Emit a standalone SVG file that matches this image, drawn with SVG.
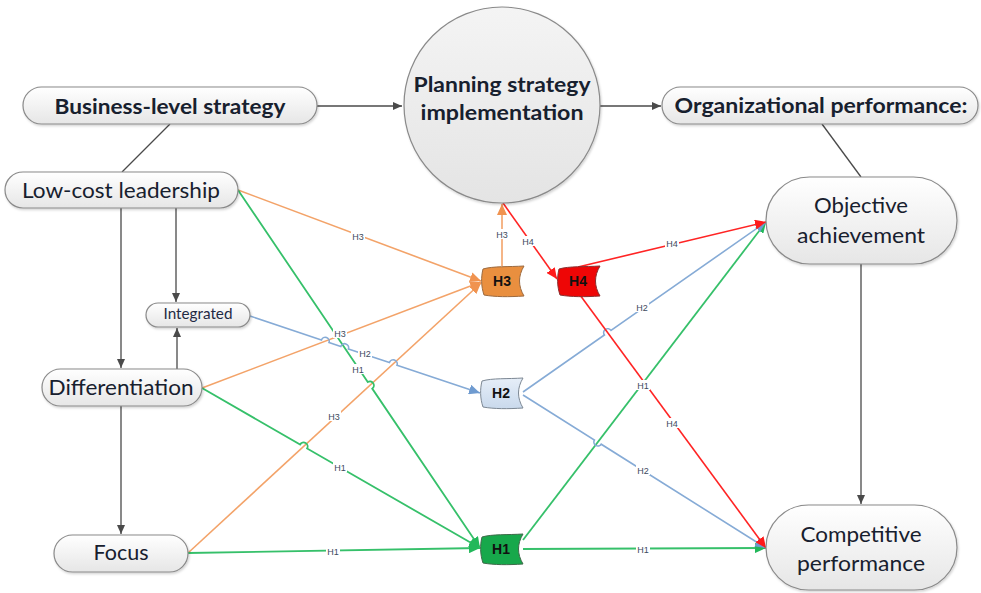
<svg xmlns="http://www.w3.org/2000/svg" xmlns:xlink="http://www.w3.org/1999/xlink" width="981" height="593" viewBox="0 0 981 593">
  <style>
    .node { fill: url(#nodeFill); stroke: #8a8a8a; stroke-width: 1.2; filter: url(#shadow); }
    .title { font-family: Lato, "Liberation Sans", sans-serif; font-weight: bold; font-size: 21px; fill: #17202e; text-anchor: middle; }
    .label { font-family: Lato, "Liberation Sans", sans-serif; font-size: 21px; fill: #17202e; text-anchor: middle; }
    .small { font-family: Lato, "Liberation Sans", sans-serif; font-size: 15px; fill: #1f2a44; text-anchor: middle; }
    .hyp { font-family: "Liberation Sans", Arial, sans-serif; font-weight: bold; font-size: 14px; fill: #111; text-anchor: middle; }
    .gray { stroke: #4a4a4a; stroke-width: 1.3; fill: none; }
    .or { stroke: #f3a369; stroke-width: 1.6; fill: none; }
    .gr { stroke: #36c06a; stroke-width: 1.8; fill: none; }
    .bl { stroke: #86abd6; stroke-width: 1.6; fill: none; }
    .rd { stroke: #ff2424; stroke-width: 1.6; fill: none; }
    .tag rect { fill: #ffffff; }
    .tag text { font-family: "Liberation Sans", Arial, sans-serif; font-size: 9px; fill: #3e4a5e; text-anchor: middle; }
  </style>
  <defs>
    <linearGradient id="nodeFill" x1="0" y1="0" x2="0" y2="1">
      <stop offset="0" stop-color="#ffffff"/>
      <stop offset="1" stop-color="#e6e6e6"/>
    </linearGradient>
    <linearGradient id="circleFill" x1="0" y1="0" x2="0" y2="1">
      <stop offset="0" stop-color="#f4f4f4"/>
      <stop offset="1" stop-color="#e4e4e4"/>
    </linearGradient>
    <linearGradient id="blueFill" x1="0" y1="0" x2="0" y2="1">
      <stop offset="0" stop-color="#e6eef8"/>
      <stop offset="1" stop-color="#c9d9ec"/>
    </linearGradient>
    <filter id="shadow" x="-10%" y="-10%" width="125%" height="130%">
      <feDropShadow dx="1" dy="1.5" stdDeviation="1.2" flood-color="#000" flood-opacity="0.18"/>
    </filter>
    <!-- wavy tape shape used for the hypothesis boxes -->
    <path id="tape" d="M2,3 C12,0 28,1 43,0 C37,10 37,20 43,30 C28,31 14,31 3,29 C0,20 0,11 2,3 Z"/>
    <marker id="aGray" markerUnits="userSpaceOnUse" markerWidth="10" markerHeight="8" refX="9" refY="4" orient="auto">
      <path d="M0,0 L9,4 L0,8 Z" fill="#4a4a4a"/>
    </marker>
    <marker id="aOr" markerUnits="userSpaceOnUse" markerWidth="12" markerHeight="10" refX="11" refY="5" orient="auto">
      <path d="M0,0 L11,5 L0,10 Z" fill="#f09350"/>
    </marker>
    <marker id="aGr" markerUnits="userSpaceOnUse" markerWidth="12" markerHeight="10" refX="11" refY="5" orient="auto">
      <path d="M0,0 L11,5 L0,10 Z" fill="#22b85a"/>
    </marker>
    <marker id="aBl" markerUnits="userSpaceOnUse" markerWidth="12" markerHeight="10" refX="11" refY="5" orient="auto">
      <path d="M0,0 L11,5 L0,10 Z" fill="#6f9bd0"/>
    </marker>
    <marker id="aRd" markerUnits="userSpaceOnUse" markerWidth="12" markerHeight="10" refX="11" refY="5" orient="auto">
      <path d="M0,0 L11,5 L0,10 Z" fill="#ff1a1a"/>
    </marker>
  </defs>

  <rect width="981" height="593" fill="#ffffff"/>

  <!-- connectors -->
  <g id="connectors">
    <!-- structural links -->
    <line class="gray" x1="170" y1="124" x2="122" y2="172"/>
    <line class="gray" x1="317" y1="106" x2="402" y2="106" marker-end="url(#aGray)"/>
    <line class="gray" x1="600" y1="106" x2="661" y2="106" marker-end="url(#aGray)"/>
    <line class="gray" x1="822" y1="124" x2="861" y2="177"/>
    <line class="gray" x1="121" y1="208" x2="121" y2="368" marker-end="url(#aGray)"/>
    <line class="gray" x1="176" y1="208" x2="176" y2="302" marker-end="url(#aGray)"/>
    <line class="gray" x1="177" y1="369" x2="177" y2="328" marker-end="url(#aGray)"/>
    <line class="gray" x1="121" y1="406" x2="121" y2="534" marker-end="url(#aGray)"/>
    <line class="gray" x1="861" y1="264" x2="861" y2="504" marker-end="url(#aGray)"/>

    <!-- H3 paths -->
    <line class="or" x1="238" y1="190" x2="481" y2="281" marker-end="url(#aOr)"/>
    <line class="or" x1="202" y1="388" x2="481" y2="282" marker-end="url(#aOr)"/>
    <line class="or" x1="188" y1="553" x2="481" y2="283" marker-end="url(#aOr)"/>
    <line class="or" x1="502" y1="266" x2="502" y2="204" marker-end="url(#aOr)"/>

    <!-- H1 paths -->
    <path class="gr" d="M238,190 L367.76,381.99 A4,4 0 0 1 372.24,388.61 L480,548" marker-end="url(#aGr)"/>
    <path class="gr" d="M202,388 L300.1,444.5 A4,4 0 0 1 307.1,448.5 L480,548" marker-end="url(#aGr)"/>
    <line class="gr" x1="188" y1="553" x2="480" y2="548" marker-end="url(#aGr)"/>
    <line class="gr" x1="523" y1="540" x2="766" y2="222" marker-end="url(#aGr)"/>
    <line class="gr" x1="523" y1="549" x2="766" y2="548" marker-end="url(#aGr)"/>

    <!-- H2 paths -->
    <path class="bl" d="M250,316 L321.4,340 A4,4 0 0 1 329,342.6 L340.8,346.4 A4,4 0 0 1 348.4,349 L389.4,362.6 A4,4 0 0 1 397,365.2 L480,393" marker-end="url(#aBl)"/>
    <path class="bl" d="M523,392 L604.4,335 A4,4 0 0 1 611,330.4 L766,222" marker-end="url(#aBl)"/>
    <path class="bl" d="M523,395 L594.4,440 A4,4 0 0 0 601.2,444.2 L766,548" marker-end="url(#aBl)"/>

    <!-- H4 paths -->
    <line class="rd" x1="503" y1="203" x2="557" y2="279" marker-end="url(#aRd)"/>
    <line class="rd" x1="578" y1="267" x2="766" y2="222" marker-end="url(#aRd)"/>
    <line class="rd" x1="580" y1="295" x2="766" y2="548" marker-end="url(#aRd)"/>

    <!-- path tags -->
    <g class="tag">
      <rect x="351" y="231" width="14" height="10"/><text x="358" y="239.5">H3</text>
      <rect x="333" y="328" width="14" height="10"/><text x="340" y="336.5">H3</text>
      <rect x="327" y="411" width="14" height="10"/><text x="334" y="419.5">H3</text>
      <rect x="495" y="229" width="14" height="10"/><text x="502" y="237.5">H3</text>
      <rect x="351" y="364" width="14" height="10"/><text x="358" y="372.5">H1</text>
      <rect x="333" y="462" width="14" height="10"/><text x="340" y="470.5">H1</text>
      <rect x="326" y="546" width="14" height="10"/><text x="333" y="554.5">H1</text>
      <rect x="636" y="380" width="14" height="10"/><text x="643" y="388.5">H1</text>
      <rect x="636" y="544" width="14" height="10"/><text x="643" y="552.5">H1</text>
      <rect x="358" y="348" width="14" height="10"/><text x="365" y="356.5">H2</text>
      <rect x="635" y="302" width="14" height="10"/><text x="642" y="310.5">H2</text>
      <rect x="636" y="465" width="14" height="10"/><text x="643" y="473.5">H2</text>
      <rect x="521" y="236" width="14" height="10"/><text x="528" y="244.5">H4</text>
      <rect x="665" y="238" width="14" height="10"/><text x="672" y="246.5">H4</text>
      <rect x="665" y="418" width="14" height="10"/><text x="672" y="426.5">H4</text>
    </g>
  </g>

  <!-- nodes -->
  <g id="business">
    <rect class="node" x="23" y="87" width="294" height="37" rx="18.5"/>
    <text class="title" x="170" y="114" textLength="231" lengthAdjust="spacingAndGlyphs">Business-level strategy</text>
  </g>
  <g id="planning">
    <circle cx="502" cy="105" r="98" fill="url(#circleFill)" stroke="#8a8a8a" stroke-width="1.2" filter="url(#shadow)"/>
    <text class="title" x="502" y="92" textLength="177" lengthAdjust="spacingAndGlyphs">Planning strategy</text>
    <text class="title" x="502" y="120" textLength="163" lengthAdjust="spacingAndGlyphs">implementation</text>
  </g>
  <g id="organizational">
    <rect class="node" x="662" y="87" width="316" height="37" rx="18.5"/>
    <text class="title" x="821" y="113" textLength="293" lengthAdjust="spacingAndGlyphs">Organizational performance:</text>
  </g>
  <g id="lowcost">
    <rect class="node" x="5" y="172" width="233" height="36" rx="18"/>
    <text class="label" x="121" y="198" textLength="198" lengthAdjust="spacingAndGlyphs">Low-cost leadership</text>
  </g>
  <g id="integrated">
    <rect class="node" x="146" y="303" width="104" height="24" rx="12"/>
    <text class="small" x="198" y="319" textLength="69" lengthAdjust="spacingAndGlyphs">Integrated</text>
  </g>
  <g id="differentiation">
    <rect class="node" x="42" y="369" width="160" height="37" rx="18.5"/>
    <text class="label" x="121" y="395" textLength="145" lengthAdjust="spacingAndGlyphs">Differentiation</text>
  </g>
  <g id="focus">
    <rect class="node" x="54" y="535" width="134" height="37" rx="18.5"/>
    <text class="label" x="121" y="560" textLength="55" lengthAdjust="spacingAndGlyphs">Focus</text>
  </g>
  <g id="objective">
    <rect class="node" x="766" y="177" width="191" height="87" rx="43.5"/>
    <text class="label" x="861" y="213" textLength="94" lengthAdjust="spacingAndGlyphs">Objective</text>
    <text class="label" x="861" y="243" textLength="128" lengthAdjust="spacingAndGlyphs">achievement</text>
  </g>
  <g id="competitive">
    <rect class="node" x="766" y="505" width="191" height="85" rx="42.5"/>
    <text class="label" x="861" y="542" textLength="121" lengthAdjust="spacingAndGlyphs">Competitive</text>
    <text class="label" x="861" y="571" textLength="128" lengthAdjust="spacingAndGlyphs">performance</text>
  </g>
  <g id="h3">
    <use xlink:href="#tape" x="481" y="266" fill="#e98f3f" stroke="#9c6a3f" stroke-width="1"/>
    <text class="hyp" x="502" y="286">H3</text>
  </g>
  <g id="h4">
    <use xlink:href="#tape" x="557" y="266" fill="#ee0606" stroke="#8a3030" stroke-width="1"/>
    <text class="hyp" x="578" y="286">H4</text>
  </g>
  <g id="h2">
    <use xlink:href="#tape" x="480" y="378" fill="url(#blueFill)" stroke="#7d8894" stroke-width="1"/>
    <text class="hyp" x="501" y="398">H2</text>
  </g>
  <g id="h1">
    <use xlink:href="#tape" x="480" y="534" fill="#17a84b" stroke="#3f6a4a" stroke-width="1"/>
    <text class="hyp" x="501" y="554">H1</text>
  </g>
</svg>
